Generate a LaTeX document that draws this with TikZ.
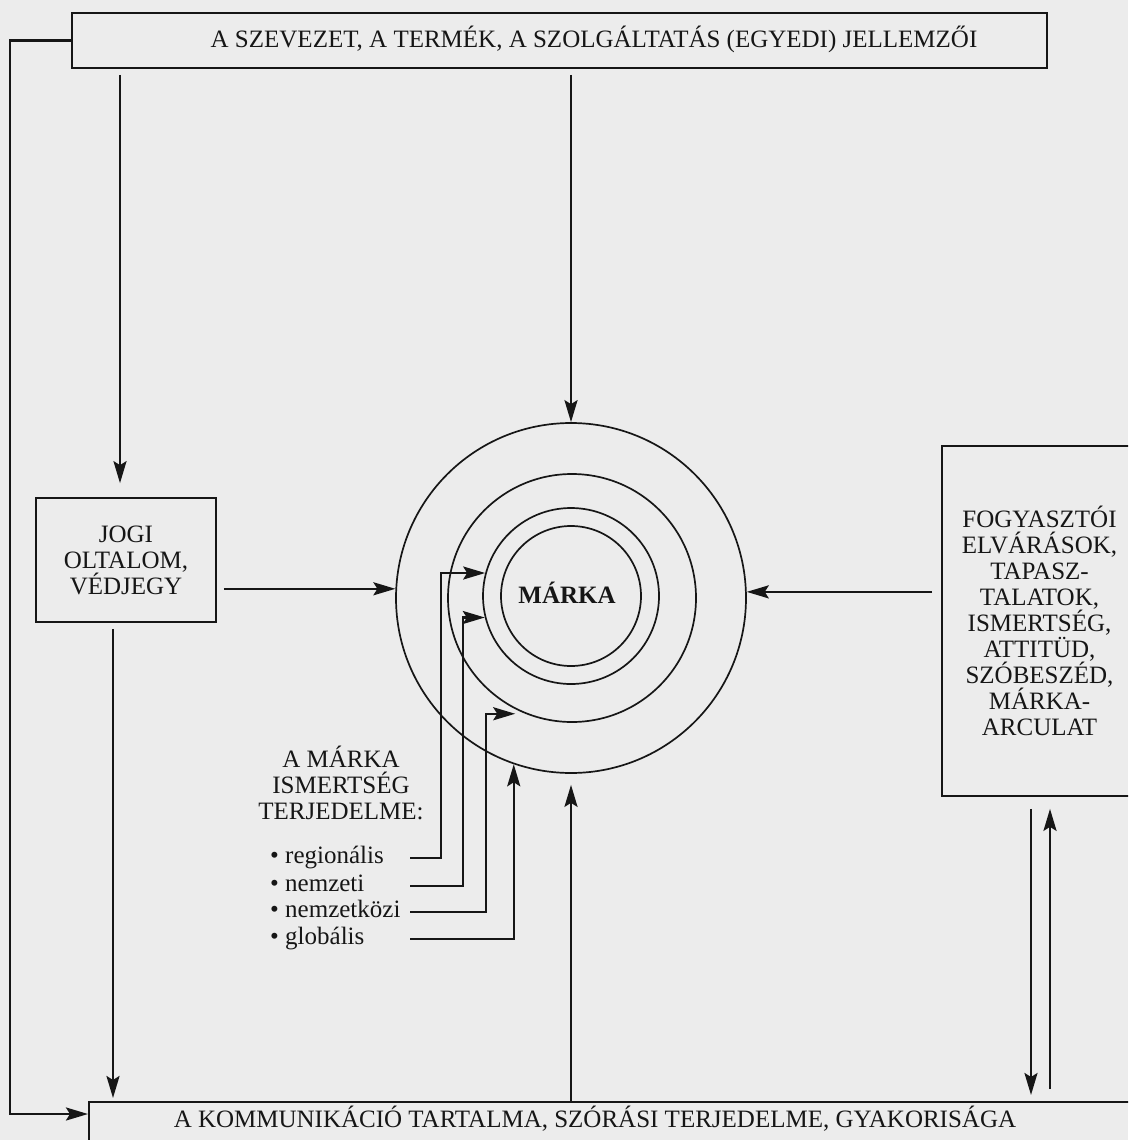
\documentclass[tikz,border=0pt]{standalone}
\usepackage{fontspec}
\setmainfont{Liberation Serif}
\usetikzlibrary{arrows.meta}
\definecolor{paper}{RGB}{236,236,236}
\definecolor{ink}{RGB}{22,22,22}
\begin{document}
\begin{tikzpicture}[x=1pt,y=-1pt,
  txt/.style={text=ink,font=\fontsize{25}{26}\selectfont,inner sep=0pt},
  box/.style={draw=ink,line width=1.7pt,inner sep=0pt},
  ring/.style={circle,draw=ink,line width=1.7pt,inner sep=0pt},
  conn/.style={draw=ink,line width=2.5pt},
  arr/.style={conn,-{Stealth[length=22pt,width=13pt,inset=4pt]}},
  item/.style={txt,anchor=west,text height=17pt,text depth=6pt}
]
\useasboundingbox (0,0) rectangle (1128,1140);
\fill[paper] (0,0) rectangle (1128,1140);
\clip (0,0) rectangle (1128,1140);

% boxes
\node[box,minimum width=975pt,minimum height=55pt] (top) at (559.5,40.5) {};
\node[txt,anchor=base] (toptxt) at (594,48) {A SZEVEZET, A TERMÉK, A SZOLGÁLTATÁS (EGYEDI) JELLEMZŐI};

\node[box,anchor=north west,minimum width=1100pt,minimum height=60pt] (bot) at (88,1101) {};
\node[txt,anchor=base] (bottxt) at (595,1127) {A KOMMUNIKÁCIÓ TARTALMA, SZÓRÁSI TERJEDELME, GYAKORISÁGA};

\node[box,txt,align=center,minimum width=180pt,minimum height=124pt] (jogi) at (126,560) {JOGI\\OLTALOM,\\VÉDJEGY};

\node[box,txt,align=center,minimum width=195pt,minimum height=350pt] (fogy) at (1039.5,621) {FOGYASZTÓI\\ELVÁRÁSOK,\\TAPASZ-\\TALATOK,\\ISMERTSÉG,\\ATTITÜD,\\SZÓBESZÉD,\\MÁRKA-\\ARCULAT};

% rings
\node[ring,minimum size=350pt] (c1) at (571,598) {};
\node[ring,minimum size=248pt] (c2) at (572,598) {};
\node[ring,minimum size=176pt] (c3) at (571,596) {};
\node[ring,minimum size=140pt] (c4) at (571,596) {};
\node[txt,font=\fontsize{25}{26}\selectfont\bfseries,anchor=base] (marka) at (567,603) {MÁRKA};

% label and list
\node[txt,align=center] (lab) at (341,783) {A MÁRKA\\ISMERTSÉG\\TERJEDELME:};
\node[item] (r1) at (270,858) {• regionális};
\node[item] (r2) at (270,886) {• nemzeti};
\node[item] (r3) at (270,912) {• nemzetközi};
\node[item] (r4) at (270,939) {• globális};

% helper coordinates
\coordinate (xL) at (10,0);
\coordinate (xA) at (120,0);
\coordinate (xB) at (113,0);
\coordinate (ls) at (410,0);
\coordinate (v1) at (441,0);
\coordinate (v2) at (463,0);
\coordinate (v3) at (486,0);
\coordinate (xD) at (1031,0);
\coordinate (xU) at (1050,0);
\coordinate (ent) at ([yshift=-13pt]bot.north west);

% connectors
\draw[arr] (top.west) -- (top.west -| xL) -- (ent -| xL) -- (ent);
\draw[arr,shorten <=6pt,shorten >=14pt] (top.south -| xA) -- (jogi.north -| xA);
\draw[arr,shorten <=6pt] (top.south -| c1.north) -- (c1.north);
\draw[arr,shorten <=6pt,shorten >=3pt] (jogi.south -| xB) -- (bot.north -| xB);
\draw[arr,shorten <=7pt] (c1.177 -| jogi.east) -- (c1.177);
\draw[arr,shorten <=9pt] (c1.2 -| fogy.west) -- (c1.2);
\draw[arr,shorten <=12pt,shorten >=6pt] (fogy.south -| xD) -- (bot.north -| xD);
\draw[arr,shorten <=12pt,shorten >=12pt] (bot.north -| xU) -- (fogy.south -| xU);
\draw[arr,shorten >=11pt] (bot.north -| c1.south) -- (c1.south);

\draw[arr] (r1.east -| ls) -- (r1.east -| v1) -- (c3.165 -| v1) -- (c3.165);
\draw[arr] (r2.east -| ls) -- (r2.east -| v2) -- (c3.194 -| v2) -- (c3.194);
\draw[arr,shorten >=10pt] (r3.east -| ls) -- (r3.east -| v3) -- (c2.248 -| v3) -- (c2.248);
\draw[arr] (r4.east -| ls) -- (c1.251 |- r4.east) -- (c1.251);
\end{tikzpicture}
\end{document}
